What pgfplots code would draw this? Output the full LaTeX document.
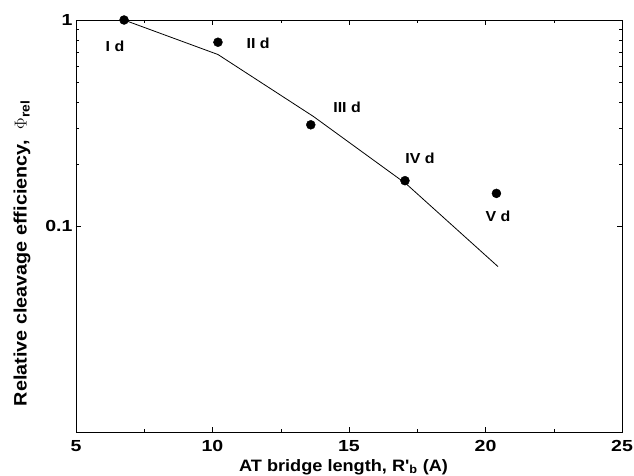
\documentclass[border=0pt]{standalone}
\usepackage{pgfplots}
\pgfplotsset{compat=1.18}
\usepackage{fontspec}
\setmainfont{Liberation Sans}
\newfontfamily\wide[FakeStretch=1.1]{Liberation Sans}
\newfontfamily\wider[FakeStretch=1.22]{Liberation Sans}
\begin{document}
\begin{tikzpicture}
\begin{axis}[
  scale only axis,
  width=546pt, height=412pt,
  xmin=5, xmax=25, ymode=log, ymin=0.01, ymax=1,
  xtick={5,10,15,20,25},
  minor x tick num=1,
  ytick={0.1,1},
  yticklabels={0.1,1},
  log ticks with fixed point,
  /pgf/number format/assume math mode=true,
  ticklabel style={font=\wider\fontsize{16}{18}\selectfont\bfseries},
  xticklabel style={yshift=-5pt},
  xlabel={AT bridge length, R'\textsubscript{b} (A)},
  ylabel={Relative cleavage efficiency,\ \ $\Phi$\textsubscript{rel}},
  label style={font=\wide\fontsize{16.5}{18}\selectfont\bfseries},
  xlabel style={at={(axis description cs:0.49,0)}, anchor=center, yshift=-35pt},
  ylabel style={at={(axis description cs:-0.099,0.434)}, anchor=center, font=\wide\fontsize{18}{20}\selectfont\bfseries},
  tick style={black, thin},
  major tick length=5pt, minor tick length=3pt,
  axis line style={line width=0.6pt},
  clip=false,
]
\addplot[black, line width=0.8pt] coordinates {(6.76,1) (10.2,0.68) (13.7,0.34) (17.1,0.16) (20.46,0.0635)};
\addplot[only marks, mark=*, mark size=4.5pt, black] coordinates {(6.76,1) (10.2,0.78) (13.6,0.31) (17.05,0.166) (20.4,0.144)};
\tikzset{ptlab/.style={font=\wide\fontsize{14.5}{17}\selectfont\bfseries}}
\node[ptlab] at (axis cs:6.43,0.742) {I d};
\node[ptlab] at (axis cs:11.67,0.775) {II d};
\node[ptlab] at (axis cs:14.93,0.377) {III d};
\node[ptlab] at (axis cs:17.6,0.212) {IV d};
\node[ptlab] at (axis cs:20.46,0.112) {V d};
\end{axis}
\pgfresetboundingbox
\path (-76pt,-43pt) rectangle (558pt,432pt);
\end{tikzpicture}
\end{document}
